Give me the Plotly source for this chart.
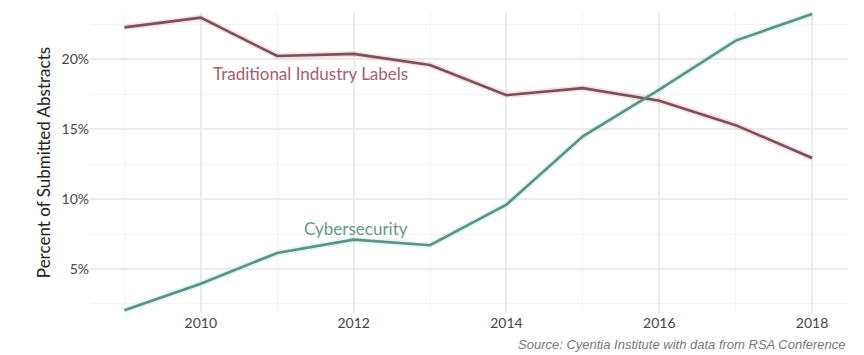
import plotly.graph_objects as go

years = [2009, 2010, 2011, 2012, 2013, 2014, 2015, 2016, 2017, 2018]
traditional = [22.3, 23.0, 20.25, 20.4, 19.6, 17.45, 17.95, 17.05, 15.3, 12.95]
cyber = [2.05, 3.95, 6.15, 7.1, 6.7, 9.6, 14.5, 17.85, 21.35, 23.25]

y_ticks = [5, 10, 15, 20]
y_tick_text = ["5%", "10%", "15%", "20%"]
x_ticks = [2010, 2012, 2014, 2016, 2018]

fig = go.Figure()
# soft glow under lines
fig.add_trace(go.Scatter(x=years, y=traditional, mode="lines",
                         line=dict(color="rgba(240,150,160,0.3)", width=6),
                         hoverinfo="skip", showlegend=False))
fig.add_trace(go.Scatter(x=years, y=cyber, mode="lines",
                         line=dict(color="rgba(140,230,220,0.3)", width=6),
                         hoverinfo="skip", showlegend=False))
fig.add_trace(go.Scatter(x=years, y=traditional, mode="lines", name="Traditional Industry Labels",
                         line=dict(color="#7a5158", width=2.6), showlegend=False))
fig.add_trace(go.Scatter(x=years, y=cyber, mode="lines", name="Cybersecurity",
                         line=dict(color="#5f8f85", width=2.6), showlegend=False))

fig.add_annotation(x=2011.43, y=18.97, text="Traditional Industry Labels", showarrow=False,
                   font=dict(family="Lato", size=17, color="#a3606f"))
fig.add_annotation(x=2012.03, y=7.92, text="Cybersecurity", showarrow=False,
                   font=dict(family="Lato", size=17, color="#5f9a8a"))
fig.add_annotation(xref="paper", yref="paper", x=1.0, y=0, yshift=-22, xanchor="right", yanchor="top",
                   text="<i>Source: Cyentia Institute with data from RSA Conference</i>", showarrow=False,
                   font=dict(family="Liberation Sans", size=13, color="#777777"))

fig.update_layout(
    width=864, height=355,
    margin=dict(l=90, r=16, t=12, b=42),
    paper_bgcolor="white", plot_bgcolor="white",
    font=dict(family="Lato", size=14, color="#444444"),
    xaxis=dict(range=[2008.55, 2018.47], tickvals=x_ticks, ticktext=[str(v) for v in x_ticks],
               showgrid=True, gridcolor="#ebebeb", gridwidth=2, zeroline=False, showline=False,
               tickfont=dict(size=14, color="#444444"), ticks="", automargin=False,
               minor=dict(tickvals=[2009, 2011, 2013, 2015, 2017], showgrid=True, gridcolor="#f4f4f4", gridwidth=1)),
    yaxis=dict(range=[1.85, 23.4], tickvals=y_ticks, ticktext=y_tick_text,
               showgrid=True, gridcolor="#ebebeb", gridwidth=2, zeroline=False, showline=False,
               tickfont=dict(size=14, color="#444444"), ticks="", automargin=False,
               title=dict(text="Percent of Submitted Abstracts", font=dict(size=17, color="#222222"), standoff=6),
               minor=dict(tickvals=[2.5, 7.5, 12.5, 17.5, 22.5], showgrid=True, gridcolor="#f4f4f4", gridwidth=1)),
)

fig.write_html("out.html", config={"displayModeBar": False},
               post_script="document.body.style.margin='0px';")
